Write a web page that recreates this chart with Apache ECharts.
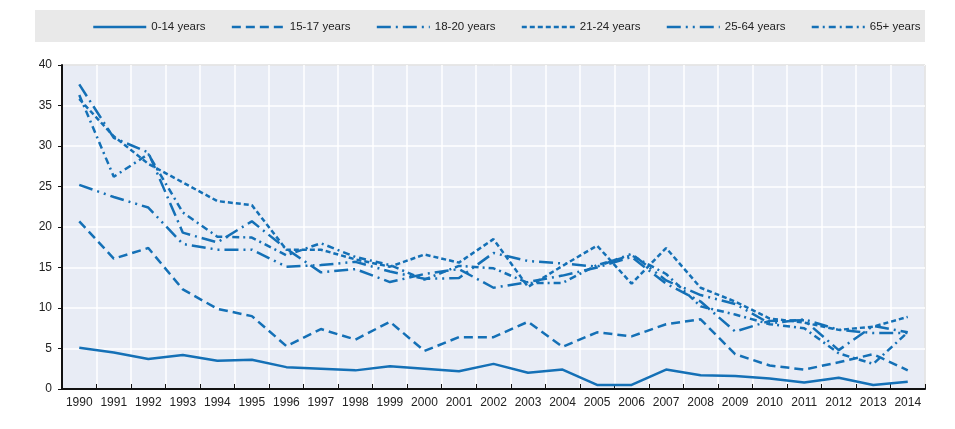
<!DOCTYPE html>
<html>
<head>
<meta charset="utf-8">
<script src="https://cdn.jsdelivr.net/npm/echarts@6/dist/echarts.min.js"></script>
<style>
  html, body { margin: 0; padding: 0; background: #fff; }
  #chart { width: 955px; height: 429px; }
</style>
</head>
<body>
<div id="chart"></div>
<script>
// categories
var years = ["1990", "1991", "1992", "1993", "1994", "1995", "1996", "1997", "1998", "1999", "2000", "2001", "2002",
  "2003", "2004", "2005", "2006", "2007", "2008", "2009", "2010", "2011", "2012", "2013", "2014"];

// series values
var age0to14 = [5.1, 4.5, 3.7, 4.2, 3.5, 3.6, 2.7, 2.5, 2.3, 2.8, 2.5, 2.2, 3.1, 2.0, 2.4, 0.5, 0.5, 2.4, 1.7, 1.6, 1.3, 0.8, 1.4, 0.5, 0.9];
var age15to17 = [20.7, 16.1, 17.4, 12.3, 9.9, 9.0, 5.3, 7.4, 6.1, 8.3, 4.7, 6.4, 6.4, 8.3, 5.2, 7.0, 6.5, 8.0, 8.6, 4.3, 2.9, 2.4, 3.3, 4.3, 2.3];
var age18to20 = [37.6, 31.0, 29.2, 19.3, 18.1, 20.7, 17.3, 14.4, 14.8, 13.2, 14.2, 14.8, 12.5, 13.2, 14.0, 15.0, 16.3, 13.0, 10.8, 7.1, 8.4, 8.5, 4.8, 7.8, 7.0];
var age21to24 = [35.8, 31.2, 27.8, 25.5, 23.2, 22.7, 17.2, 17.2, 16.0, 15.1, 16.6, 15.6, 18.5, 12.6, 15.2, 17.7, 13.0, 17.4, 12.5, 10.8, 8.7, 8.2, 7.3, 7.7, 8.9];
var age25to64 = [25.2, 23.7, 22.4, 17.9, 17.2, 17.2, 15.1, 15.3, 15.7, 14.5, 13.6, 13.7, 16.8, 15.8, 15.5, 15.1, 16.7, 13.4, 11.6, 10.5, 8.1, 8.6, 7.3, 6.9, 6.9];
var age65plus = [36.3, 26.2, 29.0, 21.8, 18.8, 18.7, 16.5, 18.0, 16.3, 15.3, 13.5, 15.2, 14.9, 13.1, 13.1, 15.3, 16.5, 14.2, 10.2, 9.2, 8.0, 7.5, 4.4, 3.1, 7.0];

var seriesNames = ["0-14 years", "15-17 years", "18-20 years", "21-24 years", "25-64 years", "65+ years"];
var seriesData = [age0to14, age15to17, age18to20, age21to24, age25to64, age65plus];
// dash patterns per series
var dashTypes = ["solid", [9, 5], [14, 5, 2, 5], [5, 3], [14, 5, 2, 5, 2, 5], [7, 4, 2, 4]];

var blue = "#1470b6";
var font = "'Liberation Sans Narrow', 'Arial Narrow', 'Liberation Sans', Arial, sans-serif";

var series = [];
for (var i = 0; i < seriesNames.length; i++) {
  series.push({
    name: seriesNames[i],
    type: "line",
    data: seriesData[i],
    symbol: "none",
    lineStyle: { color: blue, width: 2.5, type: dashTypes[i] },
    itemStyle: { color: blue }
  });
}

var chart = echarts.init(document.getElementById("chart"), null, { renderer: "canvas" });
chart.setOption({
  animation: false,
  graphic: [{
    type: "rect",
    z: -1,
    shape: { x: 35, y: 10, width: 890, height: 32 },
    style: { fill: "#e9e9e9" }
  }],
  legend: {
    top: 16,
    left: 87,
    itemWidth: 53,
    itemHeight: 8,
    itemGap: 25,
    itemStyle: { opacity: 0 },
    lineStyle: { width: 2.5 },
    textStyle: { fontFamily: font, fontSize: 11.5, color: "#222" },
    data: seriesNames
  },
  grid: {
    left: 62,
    right: 30,
    top: 65,
    bottom: 40,
    show: true,
    backgroundColor: "#e8ecf5",
    borderColor: "#444",
    borderWidth: 1
  },
  xAxis: {
    type: "category",
    data: years,
    boundaryGap: true,
    axisLine: { lineStyle: { color: "#111", width: 2 } },
    axisTick: { show: true, inside: true, length: 5, lineStyle: { color: "#111" } },
    axisLabel: { fontFamily: font, fontSize: 12, color: "#222", margin: 8, interval: 0 },
    splitLine: { show: true, lineStyle: { color: "#fff", width: 1.5 } }
  },
  yAxis: {
    type: "value",
    min: 0,
    max: 40,
    interval: 5,
    axisLine: { show: true, lineStyle: { color: "#111", width: 2 } },
    axisTick: { show: true, length: 4, lineStyle: { color: "#111" } },
    axisLabel: { fontFamily: font, fontSize: 12, color: "#222", margin: 10 },
    splitLine: { show: true, lineStyle: { color: "#fff", width: 1.5 } }
  },
  series: series
});
</script>
</body>
</html>
